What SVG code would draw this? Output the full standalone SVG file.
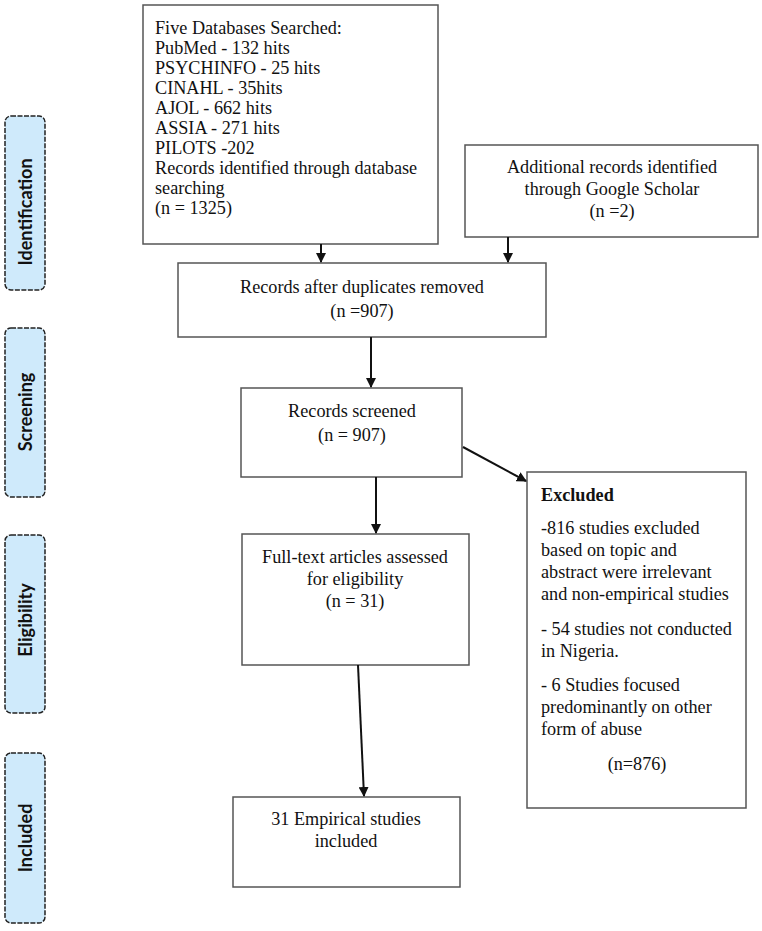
<svg xmlns="http://www.w3.org/2000/svg" width="762" height="931" viewBox="0 0 762 931">
<style>
.box{fill:#fff;stroke:#555;stroke-width:1.5}
.side{fill:#cfeafb;stroke:#222;stroke-width:1.5;stroke-dasharray:5 1.5}
.st{font-family:Lato,"Liberation Sans",sans-serif;font-weight:bold;font-size:18px;fill:#111;text-anchor:middle}
.t{font-family:"Liberation Serif","Times New Roman",serif;font-size:18.2px;fill:#111}
.c{text-anchor:middle}
.b{font-weight:bold}
.ln{stroke:#111;stroke-width:2;fill:none;marker-end:url(#ah)}
</style>
<defs>
<marker id="ah" viewBox="0 0 10 10" refX="9" refY="5" markerWidth="5" markerHeight="5" orient="auto" markerUnits="strokeWidth">
<path d="M0,0 L10,5 L0,10 z" fill="#111"/>
</marker>
</defs>
<rect width="762" height="931" fill="#fff"/>
<g id="side-identification">
<rect class="side" x="5" y="116" width="40" height="174" rx="6"/>
<text class="st" transform="translate(32,212) rotate(-90)">Identification</text>
</g>
<g id="side-screening">
<rect class="side" x="5" y="328" width="40" height="169" rx="6"/>
<text class="st" transform="translate(32,412) rotate(-90)">Screening</text>
</g>
<g id="side-eligibility">
<rect class="side" x="5" y="535" width="40" height="178" rx="6"/>
<text class="st" transform="translate(32,620) rotate(-90)">Eligibility</text>
</g>
<g id="side-included">
<rect class="side" x="5" y="753" width="40" height="170" rx="6"/>
<text class="st" transform="translate(32,838) rotate(-90)">Included</text>
</g>
<g id="databases">
<rect class="box" x="143" y="5" width="295" height="239"/>
<text class="t" x="155" y="34">Five Databases Searched:</text>
<text class="t" x="155" y="54">PubMed - 132 hits</text>
<text class="t" x="155" y="74">PSYCHINFO - 25 hits</text>
<text class="t" x="155" y="94">CINAHL - 35hits</text>
<text class="t" x="155" y="114">AJOL - 662 hits</text>
<text class="t" x="155" y="134">ASSIA - 271 hits</text>
<text class="t" x="155" y="154">PILOTS -202</text>
<text class="t" x="155" y="174">Records identified through database</text>
<text class="t" x="155" y="194">searching</text>
<text class="t" x="155" y="214">(n = 1325)</text>
</g>
<g id="google">
<rect class="box" x="465" y="145" width="293" height="92"/>
<text class="t c" x="612" y="173">Additional records identified</text>
<text class="t c" x="612" y="195">through Google Scholar</text>
<text class="t c" x="612" y="217">(n =2)</text>
</g>
<g id="duplicates">
<rect class="box" x="178" y="263" width="368" height="74"/>
<text class="t c" x="362" y="293">Records after duplicates removed</text>
<text class="t c" x="362" y="317">(n =907)</text>
</g>
<g id="screened">
<rect class="box" x="241" y="388" width="221" height="89"/>
<text class="t c" x="352" y="417">Records screened</text>
<text class="t c" x="352" y="441">(n = 907)</text>
</g>
<g id="excluded">
<rect class="box" x="527" y="472" width="219" height="336"/>
<text class="t b" x="541" y="501">Excluded</text>
<text class="t" x="541" y="534">-816 studies excluded</text>
<text class="t" x="541" y="556">based on topic and</text>
<text class="t" x="541" y="578">abstract were irrelevant</text>
<text class="t" x="541" y="600">and non-empirical studies</text>
<text class="t" x="541" y="635">- 54 studies not conducted</text>
<text class="t" x="541" y="657">in Nigeria.</text>
<text class="t" x="541" y="691">- 6 Studies focused</text>
<text class="t" x="541" y="713">predominantly on other</text>
<text class="t" x="541" y="735">form of abuse</text>
<text class="t c" x="637" y="770">(n=876)</text>
</g>
<g id="fulltext">
<rect class="box" x="242" y="534" width="227" height="131"/>
<text class="t c" x="355" y="563">Full-text articles assessed</text>
<text class="t c" x="355" y="585">for eligibility</text>
<text class="t c" x="355" y="607">(n = 31)</text>
</g>
<g id="included">
<rect class="box" x="233" y="797" width="227" height="90"/>
<text class="t c" x="346" y="825">31 Empirical studies</text>
<text class="t c" x="346" y="847">included</text>
</g>
<g id="connectors">
<line class="ln" x1="321" y1="244" x2="321" y2="262"/>
<line class="ln" x1="508" y1="237" x2="508" y2="262"/>
<line class="ln" x1="371" y1="337" x2="371" y2="387"/>
<line class="ln" x1="463" y1="447" x2="526" y2="481"/>
<line class="ln" x1="376" y1="477" x2="376" y2="533"/>
<line class="ln" x1="358" y1="665" x2="364" y2="796"/>
</g>
</svg>
